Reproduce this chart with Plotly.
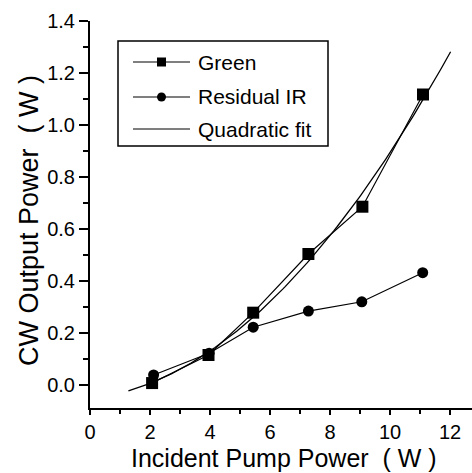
import numpy as np
import plotly.graph_objects as go

# Measured output power versus incident pump power
green_pump = [2.07, 3.95, 5.44, 7.28, 9.08, 11.10]
green_power = [0.006, 0.114, 0.277, 0.503, 0.685, 1.117]
ir_pump = [2.12, 3.97, 5.44, 7.28, 9.06, 11.09]
ir_power = [0.037, 0.121, 0.221, 0.283, 0.319, 0.431]

# Span over which the quadratic fit of the green output is drawn
fit_start, fit_end = 1.28, 12.02

x_ticks = [0, 2, 4, 6, 8, 10, 12]
x_minor = [1, 3, 5, 7, 9, 11]
y_ticks = [0.0, 0.2, 0.4, 0.6, 0.8, 1.0, 1.2, 1.4]
y_minor = [-0.1, 0.1, 0.3, 0.5, 0.7, 0.9, 1.1, 1.3]

legend_labels = ["Green", "Residual IR", "Quadratic fit"]
x_title = "Incident Pump Power  ( W )"
y_title = "CW Output Power  ( W )"

coeffs = np.polyfit(green_pump, green_power, 2)
fit_x = np.linspace(fit_start, fit_end, 120)
fit_y = np.polyval(coeffs, fit_x)

FONT = "Liberation Sans, Arial, sans-serif"
W, H = 480, 473
L, R, T, B = 90, 0, 21, 65
PW, PH = W - L - R, H - T - B

fig = go.Figure()
fig.add_trace(go.Scatter(x=fit_x, y=fit_y, mode="lines",
                         line=dict(color="black", width=1.3), showlegend=False))
fig.add_trace(go.Scatter(x=green_pump, y=green_power, mode="lines+markers",
                         line=dict(color="black", width=1.2),
                         marker=dict(symbol="square", size=12, color="black"),
                         showlegend=False))
fig.add_trace(go.Scatter(x=ir_pump, y=ir_power, mode="lines+markers",
                         line=dict(color="black", width=1.2),
                         marker=dict(symbol="circle", size=11, color="black"),
                         showlegend=False))

axis_common = dict(showgrid=False, zeroline=False, showline=True,
                   linecolor="black", linewidth=2, tickcolor="black",
                   tickwidth=1.5)

fig.update_layout(
    width=W, height=H,
    margin=dict(l=L, r=R, t=T, b=B, pad=0),
    paper_bgcolor="white", plot_bgcolor="white",
    font=dict(family=FONT, color="black"),
    showlegend=False,
    xaxis=dict(range=[0, 13], tickvals=x_ticks, ticks="outside", ticklen=5,
               tickfont=dict(size=20),
               minor=dict(tickvals=x_minor, ticks="outside", ticklen=4,
                          tickwidth=1.5, tickcolor="black"),
               **axis_common),
    yaxis=dict(range=[-0.09, 1.4], tickvals=y_ticks, tickformat=".1f",
               ticks="outside", ticklen=9, tickfont=dict(size=20),
               minor=dict(tickvals=y_minor, ticks="outside", ticklen=5,
                          tickwidth=1.5, tickcolor="black"),
               **axis_common),
    xaxis2=dict(range=[0, 13], overlaying="x", side="top", anchor="y",
                tickvals=x_ticks, ticks="inside", ticklen=8,
                showticklabels=False, **axis_common),
    yaxis2=dict(range=[-0.09, 1.4], overlaying="y", side="right", anchor="x",
                tickvals=y_ticks, ticks="inside", ticklen=10,
                showticklabels=False, **axis_common),
)


def px(xp):
    return (xp - L) / PW


def py(yp):
    return (T + PH - yp) / PH


# Legend box with sample line, marker and label for each series
shapes = [dict(type="rect", xref="paper", yref="paper",
               x0=px(118), x1=px(328), y0=py(146), y1=py(41),
               line=dict(color="black", width=1.5), fillcolor="white",
               layer="above")]
annotations = []
row_y = [62, 97, 129]
for i, label in enumerate(legend_labels):
    yy = py(row_y[i])
    shapes.append(dict(type="line", xref="paper", yref="paper",
                       x0=px(133), x1=px(190), y0=yy, y1=yy,
                       line=dict(color="black", width=1.2), layer="above"))
    annotations.append(dict(text=label, xref="paper", yref="paper",
                            x=px(196), y=yy, xanchor="left", yanchor="middle",
                            showarrow=False, font=dict(size=21)))
# square marker
shapes.append(dict(type="rect", xref="paper", yref="paper",
                   x0=px(157), x1=px(166), y0=py(66.5), y1=py(57.5),
                   line=dict(width=0), fillcolor="black", layer="above"))
# circle marker
shapes.append(dict(type="circle", xref="paper", yref="paper",
                   x0=px(157), x1=px(166), y0=py(101.5), y1=py(92.5),
                   line=dict(width=0), fillcolor="black", layer="above"))

# Axis titles
annotations.append(dict(text=x_title, xref="paper", yref="paper",
                        x=px(284), y=py(458), xanchor="center",
                        yanchor="middle", showarrow=False, font=dict(size=25)))
annotations.append(dict(text=y_title, xref="paper", yref="paper",
                        x=px(29), y=py(221), xanchor="center",
                        yanchor="middle", textangle=-90, showarrow=False,
                        font=dict(size=27)))

fig.update_layout(shapes=shapes, annotations=annotations)

fig.write_html("out.html")
